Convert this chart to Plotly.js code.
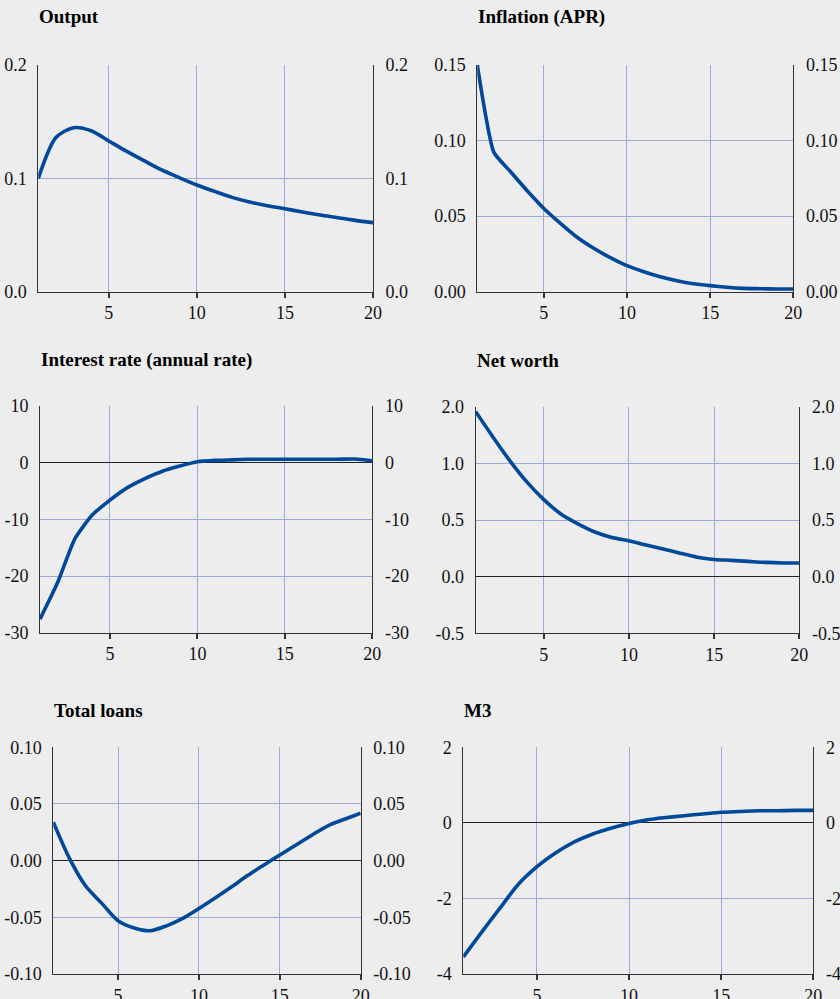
<!DOCTYPE html>
<html><head><meta charset="utf-8">
<script src="https://cdn.plot.ly/plotly-3.0.1.min.js"></script>
<style>html,body{margin:0;padding:0;background:#ededed}</style>
</head><body><div id="chart" style="width:840px;height:999px"></div>
<script>
// ---- data ----
const periods = [1,2,3,4,5,6,7,8,9,10,11,12,13,14,15,16,17,18,19,20];
const outputVals = [0.100,0.136,0.1447,0.142,0.133,0.124,0.1156,0.1074,0.1006,0.0941,0.0885,0.0832,0.0791,0.0759,0.0732,0.0703,0.0676,0.0653,0.0629,0.0609];
const inflationVals = [0.150,0.0922,0.0794,0.0668,0.0551,0.0452,0.0360,0.0287,0.0225,0.0172,0.0132,0.0099,0.0073,0.0053,0.0040,0.0029,0.0022,0.0020,0.0018,0.0018];
const interestVals = [-27.6,-21.2,-13.4,-9.2,-6.6,-4.4,-2.8,-1.5,-0.6,0.15,0.4,0.5,0.6,0.6,0.6,0.6,0.6,0.6,0.65,0.35];
const netWorthVals = [1.456,1.235,1.024,0.836,0.68,0.553,0.466,0.394,0.345,0.316,0.279,0.244,0.207,0.172,0.152,0.144,0.135,0.126,0.121,0.121];
const loansVals = [0.034,0.002,-0.0224,-0.0377,-0.053,-0.0594,-0.0618,-0.0575,-0.051,-0.0423,-0.033,-0.0233,-0.0132,-0.004,0.005,0.0138,0.0227,0.031,0.0365,0.0418];
const m3Vals = [-3.55,-2.89,-2.25,-1.62,-1.16,-0.80,-0.51,-0.30,-0.145,-0.02,0.08,0.14,0.19,0.235,0.28,0.30,0.32,0.32,0.33,0.33];

const panelTitles = ['Output','Inflation (APR)','Interest rate (annual rate)','Net worth','Total loans','M3'];
const xTickVals = [5,10,15,20];
const xTickText = ['5','10','15','20'];
const outputTicks = [0,0.1,0.2];            const outputTickText = ['0.0','0.1','0.2'];
const inflationTicks = [0,0.05,0.10,0.15];  const inflationTickText = ['0.00','0.05','0.10','0.15'];
const interestTicks = [-30,-20,-10,0,10];   const interestTickText = ['-30','-20','-10','0','10'];
const netWorthTicks = [-0.5,0,0.5,1.0,1.5]; const netWorthTickText = ['-0.5','0.0','0.5','1.0','2.0'];
const loansTicks = [-0.1,-0.05,0,0.05,0.1]; const loansTickText = ['-0.10','-0.05','0.00','0.05','0.10'];
const m3Ticks = [-4,-2,0,2];                const m3TickText = ['-4','-2','0','2'];

const series = [outputVals,inflationVals,interestVals,netWorthVals,loansVals,m3Vals];
const tickSets = [[outputTicks,outputTickText],[inflationTicks,inflationTickText],[interestTicks,interestTickText],
                  [netWorthTicks,netWorthTickText],[loansTicks,loansTickText],[m3Ticks,m3TickText]];

// ---- layout (pixels) ----
const W = 840, H = 999;
const boxes = [ // left, right, top, bottom in px
  [38.3,373,65,291.7],[477.3,793.3,65,291.7],
  [40,372.3,406,632.7],[475.7,799.3,406.7,633.3],
  [53.3,360.7,747.3,974],[463.3,813.3,747.3,974]
];
const yRanges = [[0,0.2],[0,0.15],[-30,10],[-0.5,1.5],[-0.1,0.1],[-4,2]];
const titleY = [17,17,360,360,710,710];
const smooth = [0.8,0.5,0.6,0.8,0.8,0.8];

const FONT = "'Liberation Serif', 'Times New Roman', Times, serif";
const GRID = '#9ea8dc';
const AX = '#333333';
const LINE = '#00489a';

const traces = [];
const layout = {
  width: W, height: H,
  margin: {l:0,r:0,t:0,b:0},
  paper_bgcolor: '#ededed', plot_bgcolor: '#ededed',
  showlegend: false,
  font: {family: FONT, size: 18, color: '#111'},
  annotations: []
};

for (let i = 0; i < 6; i++) {
  const n = i + 1, r = i + 7;
  const [l, rt, t, b] = boxes[i];
  const xd = [l / W, rt / W];
  const yd = [1 - b / H, 1 - t / H];
  const [tv, tt] = tickSets[i];
  traces.push({x: periods, y: series[i], type: 'scatter', mode: 'lines',
    xaxis: 'x' + n, yaxis: 'y' + n,
    line: {color: LINE, width: 3.6, shape: 'spline', smoothing: smooth[i]}, hoverinfo: 'x+y'});
  traces.push({x: periods, y: series[i], type: 'scatter', mode: 'lines',
    xaxis: 'x' + n, yaxis: 'y' + r, line: {color: LINE, width: 3.6}, opacity: 0, hoverinfo: 'skip'});
  layout['xaxis' + n] = {
    domain: xd, anchor: 'y' + n, range: [1, 20],
    tickvals: xTickVals, ticktext: xTickText,
    showgrid: true, gridcolor: GRID, gridwidth: 1,
    showline: true, linecolor: AX, linewidth: 1,
    ticks: 'outside', ticklen: 5, tickwidth: 2, tickcolor: AX,
    zeroline: false, fixedrange: true,
    tickfont: {family: FONT, size: 18, color: '#111'}
  };
  layout['yaxis' + n] = {
    domain: yd, anchor: 'x' + n, range: yRanges[i],
    tickvals: tv, ticktext: tt,
    showgrid: true, gridcolor: GRID, gridwidth: 1,
    showline: true, linecolor: AX, linewidth: 1,
    zeroline: yRanges[i][0] < 0, zerolinecolor: '#222', zerolinewidth: 1.2,
    ticks: '', ticklabelstandoff: 7, fixedrange: true,
    tickfont: {family: FONT, size: 18, color: '#111'}
  };
  layout['yaxis' + r] = {
    overlaying: 'y' + n, anchor: 'x' + n, side: 'right', range: yRanges[i],
    tickvals: tv, ticktext: tt,
    showgrid: false, zeroline: false,
    showline: true, linecolor: AX, linewidth: 1,
    ticks: '', ticklabelstandoff: 8, fixedrange: true,
    tickfont: {family: FONT, size: 18, color: '#111'}
  };
  layout.annotations.push({
    text: '<b>' + panelTitles[i] + '</b>', xref: 'paper', yref: 'paper',
    x: (l - 1) / W, y: 1 - titleY[i] / H, xanchor: 'left', yanchor: 'middle',
    showarrow: false, font: {family: FONT, size: 19, color: '#000'}
  });
}

Plotly.newPlot('chart', traces, layout, {displayModeBar: false, staticPlot: true});
</script>
</body></html>
